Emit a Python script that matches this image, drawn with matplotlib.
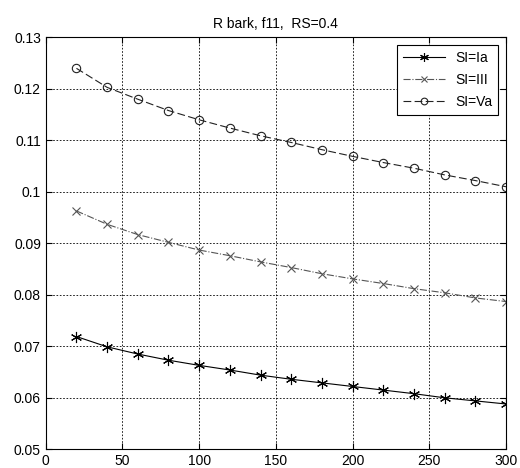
import matplotlib
matplotlib.use('Agg')
import matplotlib.pyplot as plt

plt.rcParams['font.family'] = ['Liberation Sans', 'DejaVu Sans']

# data
x = [20, 40, 60, 80, 100, 120, 140, 160, 180, 200, 220, 240, 260, 280, 300]
si_ia = [0.0719, 0.0699, 0.0685, 0.0673, 0.0663, 0.0654, 0.0644, 0.0636,
         0.0629, 0.0622, 0.0615, 0.0608, 0.0600, 0.0594, 0.0588]
si_iii = [0.0963, 0.0937, 0.0917, 0.0902, 0.0887, 0.0876, 0.0864, 0.0853,
          0.0841, 0.0831, 0.0822, 0.0812, 0.0804, 0.0794, 0.0787]
si_va = [0.1240, 0.1203, 0.1180, 0.1158, 0.1140, 0.1124, 0.1109, 0.1096,
         0.1082, 0.1069, 0.1057, 0.1046, 0.1033, 0.1022, 0.1010]
xticks = [0, 50, 100, 150, 200, 250, 300]
yticks = [0.05, 0.06, 0.07, 0.08, 0.09, 0.1, 0.11, 0.12, 0.13]
ylabels = ['0.05', '0.06', '0.07', '0.08', '0.09', '0.1', '0.11', '0.12', '0.13']

fig = plt.figure(figsize=(5.2, 4.68), dpi=100)
ax = fig.add_axes([0.088, 0.040, 0.885, 0.880])

ax.plot(x, si_ia, color='black', linestyle='-', linewidth=0.8,
        marker=(6, 2, 0), markersize=8, markeredgewidth=0.8, label='SI=Ia')
ax.plot(x, si_iii, color='#555555', linestyle='-.', linewidth=0.8,
        marker='x', markersize=6, markeredgewidth=0.8, label='SI=III')
ax.plot(x, si_va, color='#222222', linestyle=(0, (7, 3)), linewidth=0.8,
        marker='o', markersize=6, markeredgewidth=0.8, markerfacecolor='none',
        label='SI=Va')

ax.set_xlim(0, 300)
ax.set_ylim(0.05, 0.13)
ax.set_xticks(xticks)
ax.set_yticks(yticks)
ax.set_yticklabels(ylabels)
ax.tick_params(direction='in', labelsize=10, top=True, right=True, length=4)
ax.grid(True, linestyle=(0, (2, 2)), color='black', linewidth=0.6)
for s in ax.spines.values():
    s.set_linewidth(0.8)

ax.set_title('R bark, f11,  RS=0.4', fontsize=10, pad=7)
leg = ax.legend(loc='upper right', fontsize=10, fancybox=False,
                edgecolor='black', framealpha=1, borderaxespad=0.55,
                handlelength=3.0, labelspacing=0.6, markerscale=0.8)
leg.get_frame().set_linewidth(0.8)

plt.savefig('out.png', dpi=100)
